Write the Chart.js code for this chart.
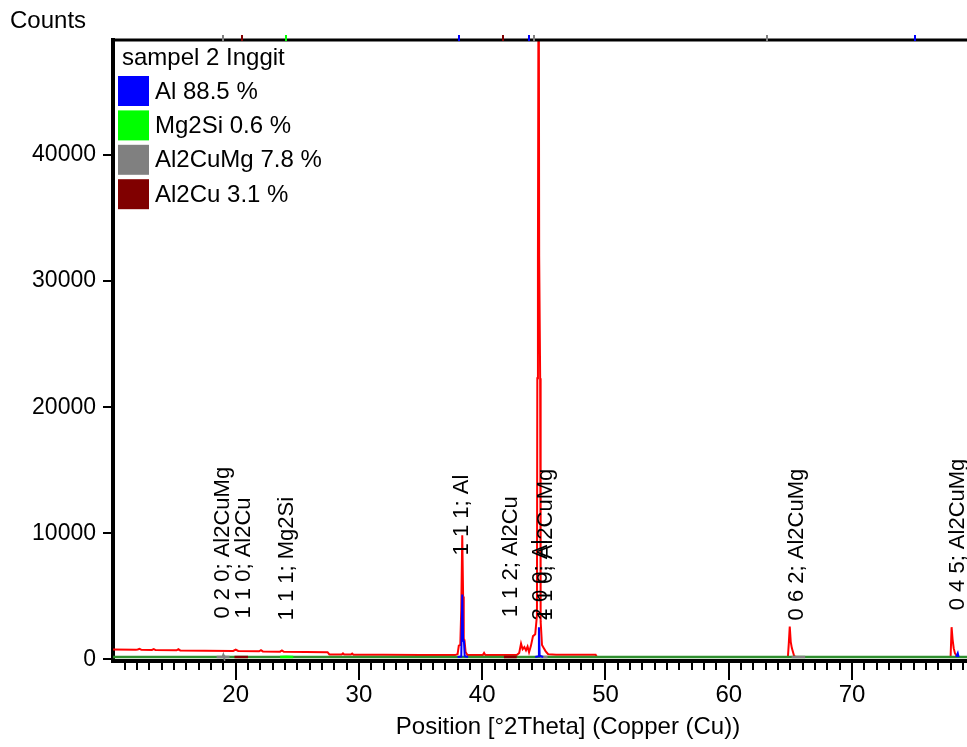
<!DOCTYPE html>
<html><head><meta charset="utf-8">
<script src="https://cdn.jsdelivr.net/npm/chart.js@4/dist/chart.umd.min.js"></script>
<style>html,body{margin:0;padding:0;background:#fff;overflow:hidden}canvas{display:block}</style>
</head><body>
<canvas id="c" width="967" height="747"></canvas>
<script>
// ---------- DATA ----------
const legendTitle = 'sampel 2 Inggit';
const phaseNames = ['Al', 'Mg2Si', 'Al2CuMg', 'Al2Cu'];
const phasePercent = ['88.5', '0.6', '7.8', '3.1'];
const phaseColors = ['#0000ff', '#00ff00', '#808080', '#800000'];

const xTickLabels = [20, 30, 40, 50, 60, 70];
const yTickLabels = [0, 10000, 20000, 30000, 40000];

// observed pattern (red)
const obsTheta = [10.05, 11.9, 12.05, 12.2, 12.35, 13.2, 13.35, 13.5, 15.2, 15.35, 15.5, 17.5, 19.8, 20.0, 20.2,
  21.9, 22.05, 22.2, 23.6, 23.75, 23.9, 27.45, 27.6, 28.6, 28.7, 28.8, 29.35, 29.45, 29.55, 32.0, 35.0, 37.8,
  38.0, 38.1, 38.22, 38.3, 38.38, 38.45, 38.5, 38.56, 38.65, 38.8, 40.05, 40.15, 40.25, 42.8, 43.0, 43.15,
  43.28, 43.42, 43.55, 43.68, 43.8, 43.95, 44.12, 44.3, 44.44, 44.47, 44.52, 44.58, 44.62, 44.7, 44.74, 44.85,
  45.0, 45.15, 45.35, 46.0, 47.0, 48.0, 49.2, 49.3, 64.8, 64.88, 64.95, 65.03, 65.12, 65.3, 65.4, 78.0, 78.08,
  78.16, 78.25, 78.35, 78.5, 78.6, 79.33];
const obsCounts = [790, 780, 790, 850, 770, 760, 830, 750, 730, 810, 720, 700, 680, 790, 680,
  650, 740, 640, 620, 720, 610, 580, 400, 400, 480, 390, 390, 470, 380, 370, 360, 350,
  420, 1100, 1150, 4000, 9850, 5000, 1650, 1550, 600, 360, 350, 520, 350, 350, 520, 1260,
  820, 980, 720, 1020, 580, 1080, 1850, 2000, 3500, 22300, 32000, 62000, 32000, 22300, 3000, 1150,
  900, 650, 420, 380, 370, 380, 370, 200, 200, 1400, 2620, 1400, 900, 300, 200, 200, 2560,
  1600, 900, 500, 280, 200, 200];

// background line (dark green)
const bgTheta = [10.05, 79.33];
const bgCounts = [200, 200];

// phase profiles (null = gap)
const alTheta = [38.0, 38.3, 38.38, 38.45, 38.52, 38.58, 38.85, 38.9, 44.3, 44.55, 44.6, 44.66, 44.95, 45.0, 78.45, 78.58, 78.65];
const alCounts = [200, 230, 5160, 1500, 1400, 260, 200, null, 200, 260, 2560, 300, 200, null, 200, 500, 200];
const mg2siTheta = [23.6, 24.1, 24.67];
const mg2siCounts = [200, 220, 200];
const al2cumgTheta = [18.45, 18.95, 19.0, 19.05, 19.5, 19.6, 44.7, 45.3, 45.4, 65.1, 66.2];
const al2cumgCounts = [200, 200, 330, 200, 200, null, 200, 200, null, 200, 200];
const al2cuTheta = [19.9, 21.0, 21.1, 41.76, 42.8];
const al2cuCounts = [200, 200, null, 200, 200];

// reflection annotations
const refLabels = ['0 2 0; Al2CuMg', '1 1 0; Al2Cu', '1 1 1; Mg2Si', '1 1 1; Al', '1 1 2; Al2Cu',
  '2 0 0; Al', '1 1 0; Al2CuMg', '0 6 2; Al2CuMg', '0 4 5; Al2CuMg'];
const refLabelTheta = [18.98, 20.67, 24.12, 38.38, 42.3, 44.75, 45.15, 65.55, 78.6];
const refLabelCounts = [3250, 3250, 3100, 8250, 3350, 3100, 3100, 3100, 3900];

// reference markers on top frame
const refMarkTheta = [18.97, 20.51, 24.08, 38.11, 41.69, 43.8, 44.2, 63.1, 75.1];
const refMarkPhase = [2, 3, 1, 0, 3, 0, 2, 2, 0];

// ---------- CHART ----------
const FONT = '"Liberation Sans", Arial, sans-serif';
Chart.defaults.font.family = FONT;
Chart.defaults.color = '#000';

const pts = (xs, ys) => xs.map((t, i) => ({ x: t, y: ys[i] }));
const minorTicks = [];
for (let v = 11; v <= 79; v++) minorTicks.push(v);

const decor = {
  id: 'decor',
  afterDraw(chart) {
    const { ctx, chartArea: a, scales: { x, y } } = chart;
    ctx.save();
    ctx.strokeStyle = '#000';
    ctx.lineWidth = 3;
    ctx.beginPath(); ctx.moveTo(a.left - 2, a.top); ctx.lineTo(a.right, a.top); ctx.stroke();
    refMarkTheta.forEach((t, i) => {
      const px = Math.round(x.getPixelForValue(t));
      ctx.fillStyle = phaseColors[refMarkPhase[i]];
      ctx.fillRect(px - 1, a.top - 5, 2, 6);
    });
    ctx.lineWidth = 2;
    minorTicks.forEach(v => {
      const px = Math.round(x.getPixelForValue(v));
      const len = xTickLabels.includes(v) ? 19 : 9;
      ctx.beginPath(); ctx.moveTo(px, a.bottom); ctx.lineTo(px, a.bottom + len); ctx.stroke();
    });
    yTickLabels.forEach(v => {
      const py = Math.round(y.getPixelForValue(v));
      ctx.beginPath(); ctx.moveTo(a.left - 10, py); ctx.lineTo(a.left, py); ctx.stroke();
    });
    ctx.fillStyle = '#000';
    ctx.font = '22px ' + FONT;
    ctx.textAlign = 'left';
    ctx.textBaseline = 'middle';
    refLabels.forEach((s, i) => {
      const px = x.getPixelForValue(refLabelTheta[i]);
      const py = y.getPixelForValue(refLabelCounts[i]);
      ctx.save(); ctx.translate(px, py); ctx.rotate(-Math.PI / 2); ctx.fillText(s, 0, 0); ctx.restore();
    });
    ctx.font = '24px ' + FONT;
    ctx.fillText(legendTitle, a.left + 9, 58);
    phaseNames.forEach((n, i) => {
      const top = 76 + i * 34.4;
      ctx.fillStyle = phaseColors[i];
      ctx.fillRect(a.left + 5, top, 31, 30);
      ctx.fillStyle = '#000';
      ctx.fillText(n + ' ' + phasePercent[i] + ' %', a.left + 42, top + 16);
    });
    ctx.fillText('Counts', 10, 21);
    ctx.textAlign = 'center';
    ctx.fillText('Position [°2Theta] (Copper (Cu))', 568, 727.5);
    ctx.restore();
  }
};

const lineDs = (label, xs, ys, color, order, width) => ({
  label, data: pts(xs, ys), borderColor: color, backgroundColor: color,
  borderWidth: width, pointRadius: 0, tension: 0, spanGaps: false, order, fill: false
});

new Chart(document.getElementById('c'), {
  type: 'line',
  data: {
    datasets: [
      lineDs('Al', alTheta, alCounts, phaseColors[0], 1, 2),
      lineDs('Mg2Si', mg2siTheta, mg2siCounts, phaseColors[1], 1, 2.5),
      lineDs('Al2CuMg', al2cumgTheta, al2cumgCounts, phaseColors[2], 1, 2.5),
      lineDs('Al2Cu', al2cuTheta, al2cuCounts, phaseColors[3], 1, 2.5),
      lineDs('Background', bgTheta, bgCounts, '#2f8f2f', 2, 2.5),
      lineDs('sampel 2 Inggit', obsTheta, obsCounts, '#ff0000', 3, 2)
    ]
  },
  options: {
    responsive: false, animation: false, devicePixelRatio: 1,
    layout: { padding: { top: 40, left: 0, right: 0, bottom: 0 }, autoPadding: false },
    plugins: { legend: { display: false }, tooltip: { enabled: false }, title: { display: false } },
    scales: {
      x: {
        type: 'linear', min: 10.045, max: 79.33,
        afterFit: s => { s.height = 86; s.paddingLeft = 0; s.paddingRight = 0; },
        afterBuildTicks: s => { s.ticks = minorTicks.map(v => ({ value: v })); },
        ticks: { autoSkip: false, maxRotation: 0, padding: 20, font: { size: 24 },
          callback: v => xTickLabels.includes(v) ? String(v) : '' },
        grid: { display: false, drawTicks: false },
        border: { display: true, color: '#000', width: 4 }
      },
      y: {
        type: 'linear', min: -119, max: 49100,
        afterFit: s => { s.width = 113; s.paddingTop = 0; s.paddingBottom = 0; },
        afterBuildTicks: s => { s.ticks = yTickLabels.map(v => ({ value: v })); },
        ticks: { padding: 17, font: { size: 23 }, callback: v => String(v) },
        grid: { display: false, drawTicks: false },
        border: { display: true, color: '#000', width: 4 }
      }
    }
  },
  plugins: [decor]
});
</script>
</body></html>
